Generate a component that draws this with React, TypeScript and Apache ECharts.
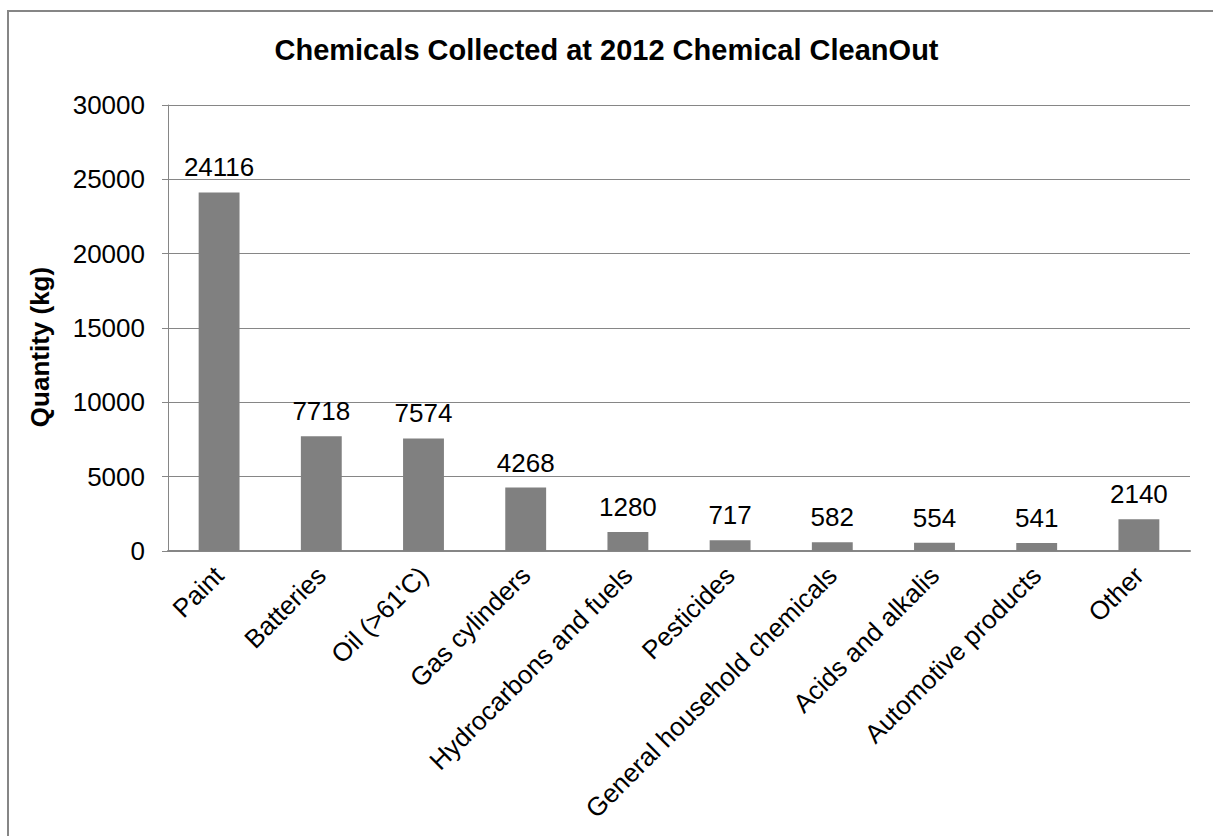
import React, { useEffect, useRef } from "react";
import * as echarts from "echarts";

const categories = [
  "Paint",
  "Batteries",
  "Oil (>61'C)",
  "Gas cylinders",
  "Hydrocarbons and fuels",
  "Pesticides",
  "General household chemicals",
  "Acids and alkalis",
  "Automotive products",
  "Other",
];
const quantities = [24116, 7718, 7574, 4268, 1280, 717, 582, 554, 541, 2140];
const yTicks = { min: 0, max: 30000, interval: 5000 };
const yAxisTitle = "Quantity (kg)";

export default function App() {
  const ref = useRef<HTMLDivElement>(null);
  useEffect(() => {
    document.body.style.margin = "0";
    const chart = echarts.init(ref.current!, null, { renderer: "svg" });
    const font = "Liberation Sans, Arial, sans-serif";
    chart.setOption({
      animation: false,
      backgroundColor: "#ffffff",
      textStyle: { fontFamily: font },
      title: {
        text: "Chemicals Collected at 2012 Chemical CleanOut",
        left: "center",
        top: 30,
        textStyle: { fontSize: 29, fontWeight: "bold", color: "#000", fontFamily: font },
      },
      graphic: [
        {
          type: "rect",
          shape: { x: 8, y: 11, width: 1220, height: 840 },
          style: { fill: "none", stroke: "#868686", lineWidth: 2 },
          silent: true,
        },
        {
          type: "text",
          x: 40,
          y: 347,
          rotation: Math.PI / 2,
          style: {
            text: yAxisTitle,
            fontSize: 26,
            fontWeight: "bold",
            fontFamily: font,
            fill: "#000",
            align: "center",
            verticalAlign: "middle",
          },
          silent: true,
        },
      ],
      grid: { left: 168, right: 23, top: 105, bottom: 285, containLabel: false },
      xAxis: {
        type: "category",
        data: categories,
        axisLine: { show: true, lineStyle: { color: "#868686", width: 2 } },
        axisTick: { show: false },
        axisLabel: {
          rotate: 45,
          interval: 0,
          fontSize: 26,
          color: "#000",
          fontFamily: font,
          margin: 20,
        },
      },
      yAxis: {
        type: "value",
        min: yTicks.min,
        max: yTicks.max,
        interval: yTicks.interval,
        axisLine: { show: true, lineStyle: { color: "#868686", width: 1 } },
        axisTick: { show: true, length: 6, lineStyle: { color: "#868686" } },
        axisLabel: {
          fontSize: 26,
          color: "#000",
          fontFamily: font,
          margin: 23,
          formatter: (v: number) => String(v),
        },
        splitLine: { show: true, lineStyle: { color: "#868686", width: 1 } },
      },
      series: [
        {
          type: "bar",
          data: quantities,
          barWidth: "40%",
          itemStyle: { color: "#808080" },
          label: {
            show: true,
            position: "top",
            fontSize: 26,
            color: "#000",
            fontFamily: font,
            distance: 12,
          },
        },
      ],
    });
    return () => chart.dispose();
  }, []);
  return <div ref={ref} style={{ width: 1213, height: 836 }} />;
}
